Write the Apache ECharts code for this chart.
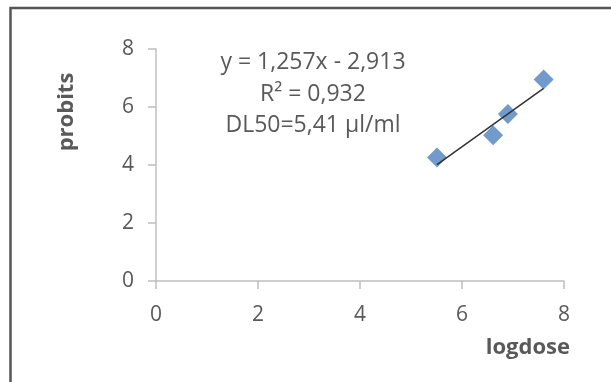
<!DOCTYPE html>
<html lang="en" style="height: 100%">
<head>
<meta charset="utf-8">
<title>Probits vs logdose</title>
</head>
<body style="height: 100%; margin: 0; background: #fff">
<div id="container" style="height: 100%"></div>

<script type="text/javascript" src="https://cdn.jsdelivr.net/npm/echarts/dist/echarts.min.js"></script>

<script type="text/javascript">

var logdose = [5.51, 6.61, 6.90, 7.60];
var probits = [4.26, 5.03, 5.76, 6.95];
var slope = 1.257;
var intercept = -2.913;
var annotation = ['y = 1,257x - 2,913', 'R\u00B2 = 0,932', 'DL50=5,41 \u00B5l/ml'];

var dom = document.getElementById('container');
var myChart = echarts.init(dom, null, { width: 611, height: 382 });

var points = logdose.map(function (x, i) { return [x, probits[i]]; });
var xMin = Math.min.apply(null, logdose);
var xMax = Math.max.apply(null, logdose);
var trend = [[xMin, slope * xMin + intercept], [xMax, slope * xMax + intercept]];

var font = '"Open Sans", sans-serif';
var axisGrey = '#bfbfbf';
var textGrey = '#595959';

option = {
    animation: false,
    grid: { left: 156, right: 47, top: 49, bottom: 101 },
    xAxis: {
        type: 'value',
        min: 0,
        max: 8,
        interval: 2,
        name: 'logdose',
        nameLocation: 'end',
        nameGap: 6,
        nameTextStyle: {
            fontFamily: font, fontSize: 22, fontWeight: 'bold', color: textGrey,
            align: 'right', verticalAlign: 'top', padding: [56, 0, 0, 0]
        },
        splitLine: { show: false },
        axisLine: { show: true, lineStyle: { color: axisGrey, width: 1.5 } },
        axisTick: { show: true, length: 8, lineStyle: { color: axisGrey, width: 1.5 } },
        axisLabel: { margin: 24, fontFamily: font, fontSize: 21, color: textGrey }
    },
    yAxis: {
        type: 'value',
        min: 0,
        max: 8,
        interval: 2,
        name: 'probits',
        nameLocation: 'middle',
        nameRotate: 90,
        nameGap: 78,
        nameTextStyle: {
            fontFamily: font, fontSize: 22, fontWeight: 'bold', color: textGrey,
            padding: [0, 0, 0, 106]
        },
        splitLine: { show: false },
        axisLine: { show: true, lineStyle: { color: axisGrey, width: 1.5 } },
        axisTick: { show: true, length: 8, lineStyle: { color: axisGrey, width: 1.5 } },
        axisLabel: { margin: 22, fontFamily: font, fontSize: 21, color: textGrey }
    },
    graphic: [
        {
            type: 'polyline',
            shape: { points: [[10.5, 382], [10.5, 8], [611, 8]] },
            style: { stroke: '#555', lineWidth: 2.5, fill: null }
        },
        {
            type: 'text',
            x: 313,
            y: 47,
            style: {
                text: annotation.join('\n'),
                align: 'center',
                verticalAlign: 'top',
                fontFamily: font,
                fontSize: 23,
                lineHeight: 31.5,
                fill: textGrey
            }
        }
    ],
    series: [
        {
            type: 'scatter',
            data: points,
            symbol: 'diamond',
            symbolSize: [20, 20],
            itemStyle: { color: '#4F81BD' },
            z: 2
        },
        {
            type: 'line',
            data: trend,
            showSymbol: false,
            lineStyle: { color: '#333', width: 1.5 },
            z: 3
        }
    ]
};

if (option && typeof option === 'object') {
    myChart.setOption(option);
}

window.addEventListener('resize', myChart.resize);
</script>
</body>
</html>
